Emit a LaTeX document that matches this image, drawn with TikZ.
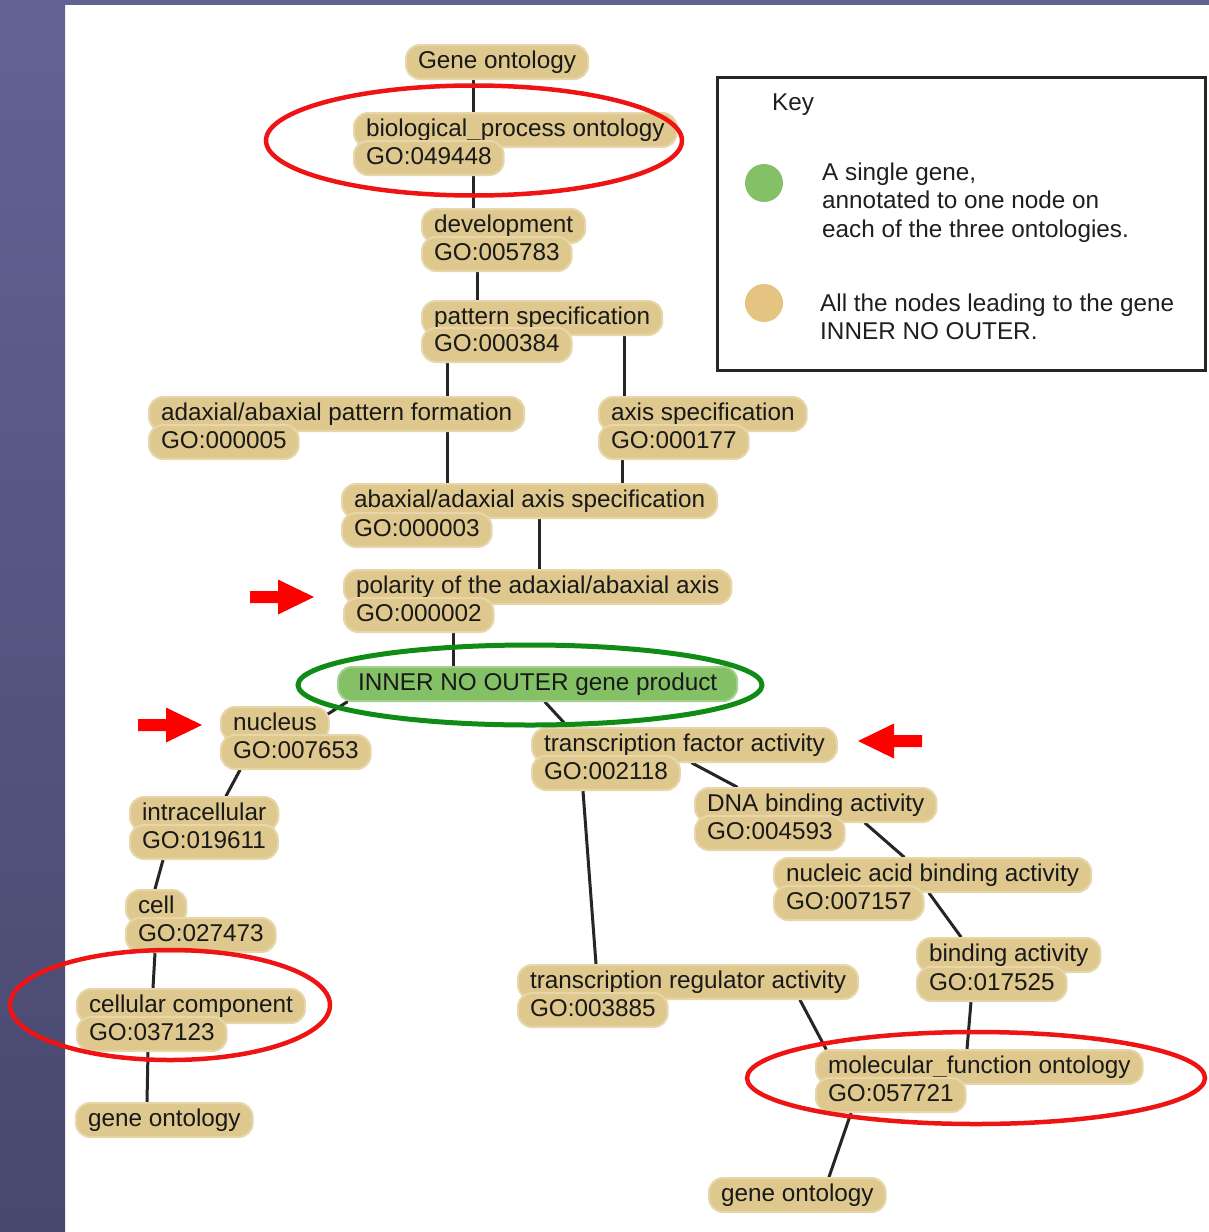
\documentclass[tikz,border=0pt]{standalone}
\usepackage{fontspec}
\setmainfont{Liberation Sans}
\pgfdeclarelayer{background}
\pgfsetlayers{background,main}
\definecolor{termtan}{RGB}{222,200,142}
\definecolor{keytan}{RGB}{228,196,128}
\definecolor{genegreen}{RGB}{132,192,102}
\definecolor{ringred}{RGB}{238,20,20}
\definecolor{ringgreen}{RGB}{16,140,22}
\definecolor{bandtop}{RGB}{98,99,148}
\definecolor{bandbot}{RGB}{72,72,110}
\newcommand{\termfont}{\fontsize{24.3}{28}\selectfont}
\tikzset{
  term/.style={anchor=base west, fill=termtan, draw=termtan!75!white, line width=2pt,
    rounded corners=14pt, inner xsep=12pt, inner ysep=6pt, text height=17pt, text depth=5pt,
    text=black!90, font=\termfont},
  product/.style={term, fill=genegreen, draw=genegreen!75!white, inner xsep=20pt},
  edge/.style={line width=3pt, black!85, line cap=round},
  ring/.style={line width=4.5pt, draw=ringred},
  pointer/.style={fill=red},
  keyline/.style={anchor=base west, inner sep=0pt, text=black!88, font=\termfont},
}
\begin{document}
\begin{tikzpicture}[x=1pt, y=-1pt]
\useasboundingbox (0,0) rectangle (1209,1232);

% ---------- slide frame ----------
\begin{pgfonlayer}{background}
  \fill[white] (0,0) rectangle (1209,1232);
  \shade[top color=bandtop, bottom color=bandbot] (0,0) rectangle (65,1232);
  \fill[bandtop] (0,0) rectangle (1209,5);
\end{pgfonlayer}

% ---------- biological process branch ----------
\node[term] (gene)  at (405,68)  {Gene ontology};
\node[term] (bp)    at (353,136) {biological\_process ontology};
\node[term] (bpid)  at (353,164) {GO:049448};
\node[term] (dev)   at (421,232) {development};
\node[term] (devid) at (421,260) {GO:005783};
\node[term] (pat)   at (421,324) {pattern specification};
\node[term] (patid) at (421,351) {GO:000384};
\node[term] (adf)   at (148,420) {adaxial/abaxial pattern formation};
\node[term] (adfid) at (148,448) {GO:000005};
\node[term] (axs)   at (598,420) {axis specification};
\node[term] (axsid) at (598,448) {GO:000177};
\node[term] (aas)   at (341,507) {abaxial/adaxial axis specification};
\node[term] (aasid) at (341,536) {GO:000003};
\node[term] (pol)   at (343,593) {polarity of the adaxial/abaxial axis};
\node[term] (polid) at (343,621) {GO:000002};

% ---------- gene product ----------
\node[product] (inner) at (337,690) {INNER NO OUTER gene product};

% ---------- cellular component branch ----------
\node[term] (nuc)     at (220,730)  {nucleus};
\node[term] (nucid)   at (220,758)  {GO:007653};
\node[term] (intra)   at (129,820)  {intracellular};
\node[term] (intraid) at (129,848)  {GO:019611};
\node[term] (cell)    at (125,913)  {cell};
\node[term] (cellid)  at (125,941)  {GO:027473};
\node[term] (cc)      at (76,1012)  {cellular component};
\node[term] (ccid)    at (76,1040)  {GO:037123};
\node[term] (gol)     at (75,1126)  {gene ontology};

% ---------- molecular function branch ----------
\node[term] (tfa)    at (531,751)  {transcription factor activity};
\node[term] (tfaid)  at (531,779)  {GO:002118};
\node[term] (dna)    at (694,811)  {DNA binding activity};
\node[term] (dnaid)  at (694,839)  {GO:004593};
\node[term] (nab)    at (773,881)  {nucleic acid binding activity};
\node[term] (nabid)  at (773,909)  {GO:007157};
\node[term] (bind)   at (916,961)  {binding activity};
\node[term] (bindid) at (916,990)  {GO:017525};
\node[term] (tra)    at (517,988)  {transcription regulator activity};
\node[term] (traid)  at (517,1016) {GO:003885};
\node[term] (mf)     at (815,1073) {molecular\_function ontology};
\node[term] (mfid)   at (815,1101) {GO:057721};
\node[term] (gob)    at (708,1201) {gene ontology};

% ---------- is-a links (behind the terms) ----------
\begin{pgfonlayer}{background}
  \foreach \src/\sx/\dst/\dx in {gene/473/bp/473, bpid/473/dev/473, devid/477/pat/477,
      patid/447/adf/447, adf/447/aas/447, pat/624/axs/624, axsid/622/aas/622,
      aas/539/pol/539, polid/453/inner/453, inner/347/nucid/296, inner/545/tfa/568,
      nucid/240/intra/226, intraid/163/cell/155, cellid/155/cc/153, ccid/148/gol/147,
      tfa/692/dna/737, tfaid/583/tra/596, dna/865/nab/904, nab/929/bind/961,
      bindid/971/mf/967, tra/800/mf/826, mfid/851/gob/829}
    \draw[edge] (\src.south -| \sx,0) -- (\dst.north -| \dx,0);
\end{pgfonlayer}

% ---------- highlight rings and pointers ----------
\draw[ring] (474,140.5) ellipse [x radius=208pt, y radius=55pt];
\draw[ring] (170,1005) ellipse [x radius=160pt, y radius=55pt];
\draw[ring] (976,1078) ellipse [x radius=229pt, y radius=46pt];
\draw[ring, draw=ringgreen, line width=5pt] (530,685) ellipse [x radius=232pt, y radius=40pt];
\foreach \bx/\by/\dir in {250/597/1, 138/725/1, 922/741/-1}
  \fill[pointer, shift={(\bx,\by)}, xscale=\dir]
    (0,-6) -- (28,-6) -- (28,-17.5) -- (64,0) -- (28,17.5) -- (28,6) -- (0,6) -- cycle;

% ---------- key ----------
\draw[line width=3pt, black!85] (717.5,77) rectangle (1205.5,370);
\node[keyline] (keyhead) at (772,110) {Key};
\fill[genegreen] (764,183) circle (19pt);
\fill[keytan] (764,303) circle (19pt);
\node[keyline] (keya) at (822,180) {A single gene,};
\node[keyline] (keyb) at (822,208) {annotated to one node on};
\node[keyline] (keyc) at (822,237) {each of the three ontologies.};
\node[keyline] (keyd) at (820,311) {All the nodes leading to the gene};
\node[keyline] (keye) at (820,339) {INNER NO OUTER.};

\end{tikzpicture}
\end{document}
